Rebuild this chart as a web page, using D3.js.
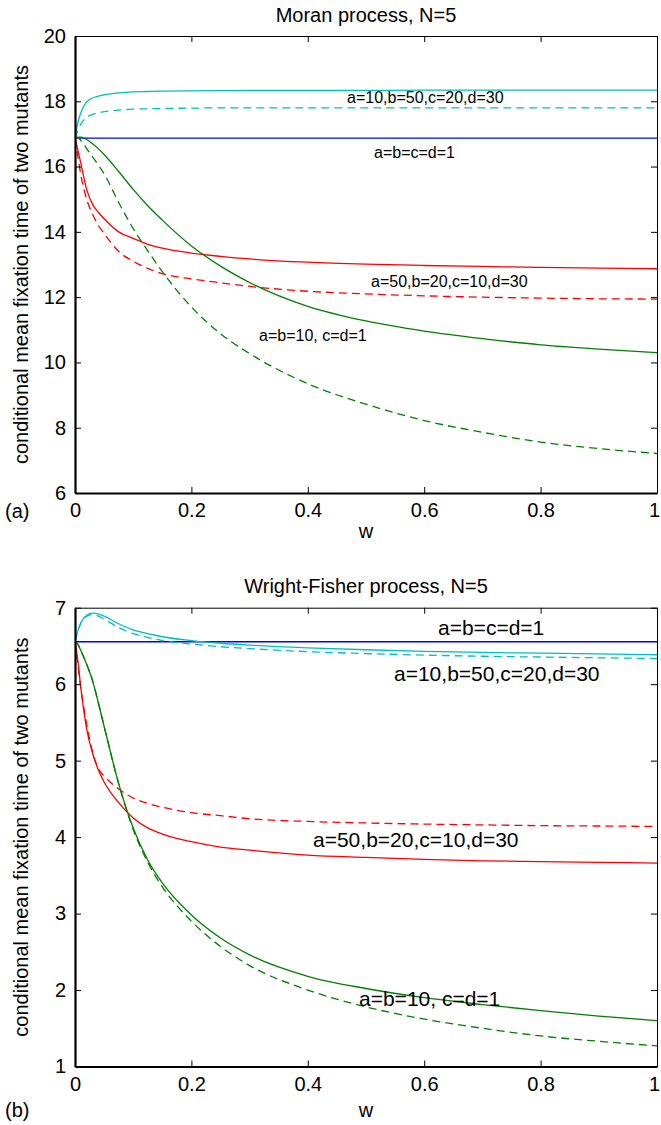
<!DOCTYPE html>
<html>
<head>
<meta charset="utf-8">
<script src="https://cdn.jsdelivr.net/npm/d3@7"></script>
<style>
	body { margin: 0; background: #fff; }
	svg { display: block; }
	text { font-family: "Liberation Sans", Arial, Helvetica, sans-serif; fill: #000; }
</style>
</head>
<body>
<svg id="chart" width="661" height="1125"></svg>
<script>
// w grid shared by every curve
const W = [0, 0.005, 0.01, 0.02, 0.03, 0.04, 0.05, 0.075, 0.1, 0.125, 0.15, 0.2, 0.25, 0.3, 0.4, 0.5, 0.6, 0.7, 0.8, 0.9, 1];
const xTicks = [0, 0.2, 0.4, 0.6, 0.8, 1];

// (a) Moran process
const moranYTicks = [6, 8, 10, 12, 14, 16, 18, 20];
const moranBlue = [16.87, 16.87, 16.87, 16.87, 16.87, 16.87, 16.87, 16.87, 16.87, 16.87, 16.87, 16.87, 16.87, 16.87, 16.87, 16.87, 16.87, 16.87, 16.87, 16.87, 16.87];
const moranCyan = [16.87, 17.35, 17.65, 17.98, 18.1, 18.16, 18.2, 18.26, 18.29, 18.3, 18.31, 18.32, 18.325, 18.33, 18.33, 18.335, 18.34, 18.34, 18.34, 18.34, 18.34];
const moranCyanDash = [16.87, 17.1, 17.3, 17.5, 17.6, 17.65, 17.68, 17.73, 17.76, 17.77, 17.78, 17.79, 17.8, 17.8, 17.8, 17.8, 17.8, 17.8, 17.8, 17.8, 17.8];
const moranRed = [16.87, 16.5, 16.1, 15.3, 14.85, 14.6, 14.4, 14.0, 13.8, 13.62, 13.5, 13.35, 13.25, 13.17, 13.07, 13.01, 12.97, 12.94, 12.91, 12.89, 12.87];
const moranRedDash = [16.87, 16.3, 15.75, 15.0, 14.55, 14.2, 13.95, 13.4, 13.1, 12.88, 12.72, 12.56, 12.44, 12.33, 12.18, 12.1, 12.04, 12.0, 11.97, 11.95, 11.94];
const moranGreen = [16.87, 16.9, 16.9, 16.83, 16.7, 16.55, 16.37, 15.85, 15.3, 14.8, 14.36, 13.57, 12.95, 12.45, 11.72, 11.27, 10.96, 10.73, 10.54, 10.41, 10.3];
const moranGreenDash = [16.87, 16.87, 16.8, 16.55, 16.3, 16.05, 15.78, 14.9, 14.1, 13.42, 12.78, 11.7, 10.88, 10.27, 9.35, 8.72, 8.22, 7.86, 7.56, 7.36, 7.21];

// (b) Wright-Fisher process
const wfYTicks = [1, 2, 3, 4, 5, 6, 7];
const wfBlue = [6.555, 6.555, 6.555, 6.555, 6.555, 6.555, 6.555, 6.555, 6.555, 6.555, 6.555, 6.555, 6.555, 6.555, 6.555, 6.555, 6.555, 6.555, 6.555, 6.555, 6.555];
const wfCyan = [6.555, 6.7, 6.8, 6.9, 6.93, 6.92, 6.89, 6.79, 6.71, 6.66, 6.62, 6.57, 6.535, 6.51, 6.475, 6.45, 6.43, 6.415, 6.405, 6.395, 6.385];
const wfCyanDash = [6.555, 6.7, 6.8, 6.89, 6.91, 6.89, 6.85, 6.74, 6.66, 6.61, 6.57, 6.525, 6.49, 6.465, 6.425, 6.4, 6.38, 6.365, 6.355, 6.345, 6.335];
const wfRed = [6.555, 6.3, 5.95, 5.42, 5.1, 4.88, 4.72, 4.45, 4.25, 4.12, 4.04, 3.94, 3.87, 3.83, 3.765, 3.735, 3.71, 3.69, 3.68, 3.67, 3.66];
const wfRedDash = [6.555, 6.25, 5.95, 5.48, 5.12, 4.9, 4.8, 4.63, 4.51, 4.44, 4.39, 4.32, 4.28, 4.24, 4.205, 4.185, 4.17, 4.16, 4.15, 4.145, 4.14];
const wfGreen = [6.555, 6.52, 6.44, 6.26, 6.05, 5.76, 5.45, 4.7, 4.12, 3.7, 3.4, 2.98, 2.68, 2.46, 2.18, 2.02, 1.9, 1.81, 1.73, 1.66, 1.6];
const wfGreenDash = [6.555, 6.52, 6.44, 6.26, 6.05, 5.76, 5.45, 4.7, 4.1, 3.67, 3.35, 2.9, 2.57, 2.32, 2.0, 1.78, 1.62, 1.5, 1.4, 1.33, 1.27];

const CYAN = '#00bfbf', BLUE = '#0000ff', RED = '#ff0000', GREEN = '#008000';
const yLabel = 'conditional mean fixation time of two mutants';

const svg = d3.select('#chart');
const left = 75, right = 657;

const drawPanel = (p) => {
	const x = d3.scaleLinear().domain([0, 1]).range([left, right]);
	const y = d3.scaleLinear().domain(p.yDomain).range([p.bottom, p.top]);
	const g = svg.append('g');

	g.append('clipPath').attr('id', p.id + '-clip')
		.append('rect').attr('x', left).attr('y', p.top).attr('width', right - left).attr('height', p.bottom - p.top);

	const line = d3.line().x((d) => x(d[0])).y((d) => y(d[1])).curve(d3.curveMonotoneX);
	const plot = g.append('g').attr('clip-path', `url(#${p.id}-clip)`);
	p.series.forEach((s) => {
		plot.append('path')
			.datum(W.map((w, i) => [w, s.values[i]]))
			.attr('fill', 'none').attr('stroke', s.color).attr('stroke-width', 1.3)
			.attr('stroke-dasharray', s.dash ? '8,5' : null)
			.attr('d', line);
	});

	// axes, ticks point inward like matlab
	const fmt = d3.format('~g');
	const xb = g.append('g').attr('transform', `translate(0,${p.bottom})`)
		.call(d3.axisBottom(x).tickValues(xTicks).tickFormat(fmt).tickSizeInner(-6).tickSizeOuter(0).tickPadding(10));
	const yl = g.append('g').attr('transform', `translate(${left},0)`)
		.call(d3.axisLeft(y).tickValues(p.yTicks).tickFormat(fmt).tickSizeInner(-6).tickSizeOuter(0).tickPadding(9));
	const xt = g.append('g').attr('transform', `translate(0,${p.top})`)
		.call(d3.axisTop(x).tickValues(xTicks).tickFormat('').tickSizeInner(-6).tickSizeOuter(0));
	const yr = g.append('g').attr('transform', `translate(${right},0)`)
		.call(d3.axisRight(y).tickValues(p.yTicks).tickFormat('').tickSizeInner(-6).tickSizeOuter(0));

	[xb, yl, xt, yr].forEach((a) => {
		a.selectAll('text').attr('font-size', 20).attr('font-family', '"Liberation Sans", Arial, sans-serif').attr('fill', '#000');
		a.selectAll('line').attr('stroke', '#000');
		a.select('.domain').attr('stroke', '#000');
	});
	xb.selectAll('.tick text').filter((d) => d === 1).attr('dx', -3); // keep "1" inside the page
	xb.select('.domain').attr('stroke-width', 2.2);
	yl.select('.domain').attr('stroke-width', 2.2);
	xt.select('.domain').attr('stroke-width', 1);
	yr.select('.domain').attr('stroke-width', 1);

	// titles and labels
	g.append('text').attr('x', (left + right) / 2).attr('y', p.titleY).attr('text-anchor', 'middle')
		.attr('font-size', 20).text(p.title);
	g.append('text').attr('x', (left + right) / 2).attr('y', p.wY).attr('text-anchor', 'middle')
		.attr('font-size', 20).text('w');
	g.append('text').attr('transform', `translate(28,${(p.top + p.bottom) / 2}) rotate(-90)`)
		.attr('text-anchor', 'middle').attr('font-size', 20).text(yLabel);
	g.append('text').attr('x', 5).attr('y', p.tagY)
		.attr('font-family', '"Liberation Serif", "Times New Roman", serif').attr('font-size', 20).text(p.tag);

	p.notes.forEach((n) => {
		g.append('text').attr('x', n.x).attr('y', n.y).attr('font-size', p.noteSize).text(n.text);
	});
};

drawPanel({
	id: 'moran', title: 'Moran process, N=5', tag: '(a)',
	top: 36, bottom: 493, yDomain: [6, 20], yTicks: moranYTicks,
	titleY: 22, wY: 538, tagY: 518, noteSize: 16,
	series: [
		{ values: moranBlue, color: BLUE },
		{ values: moranCyan, color: CYAN },
		{ values: moranCyanDash, color: CYAN, dash: true },
		{ values: moranRed, color: RED },
		{ values: moranRedDash, color: RED, dash: true },
		{ values: moranGreen, color: GREEN },
		{ values: moranGreenDash, color: GREEN, dash: true },
	],
	notes: [
		{ text: 'a=10,b=50,c=20,d=30', x: 347, y: 103 },
		{ text: 'a=b=c=d=1', x: 374, y: 158 },
		{ text: 'a=50,b=20,c=10,d=30', x: 371, y: 287 },
		{ text: 'a=b=10, c=d=1', x: 259, y: 341 },
	],
});

drawPanel({
	id: 'wf', title: 'Wright-Fisher process, N=5', tag: '(b)',
	top: 607.7, bottom: 1066.5, yDomain: [1, 7], yTicks: wfYTicks,
	titleY: 593, wY: 1117, tagY: 1117, noteSize: 21,
	series: [
		{ values: wfBlue, color: BLUE },
		{ values: wfCyan, color: CYAN },
		{ values: wfCyanDash, color: CYAN, dash: true },
		{ values: wfRed, color: RED },
		{ values: wfRedDash, color: RED, dash: true },
		{ values: wfGreen, color: GREEN },
		{ values: wfGreenDash, color: GREEN, dash: true },
	],
	notes: [
		{ text: 'a=b=c=d=1', x: 438, y: 635 },
		{ text: 'a=10,b=50,c=20,d=30', x: 394, y: 681 },
		{ text: 'a=50,b=20,c=10,d=30', x: 313, y: 847 },
		{ text: 'a=b=10, c=d=1', x: 359, y: 1006 },
	],
});
</script>
</body>
</html>
